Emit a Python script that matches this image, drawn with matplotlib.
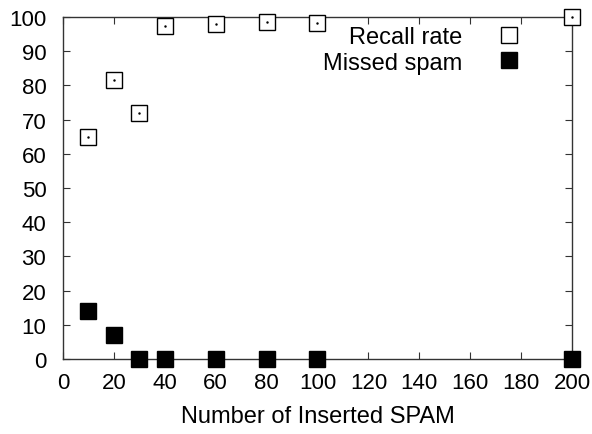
import matplotlib
matplotlib.use("Agg")
import matplotlib.pyplot as plt

plt.rcParams['font.family'] = ['Liberation Sans', 'DejaVu Sans']

# number of inserted spam messages
inserted = [10, 20, 30, 40, 60, 80, 100, 200]
# recall rate (%)
recall = [65, 81.5, 72, 97.5, 98, 98.5, 98.3, 100]
# missed spam count
missed = [14, 7, 0, 0, 0, 0, 0, 0]

xticks = list(range(0, 201, 20))
yticks = list(range(0, 101, 10))

fig = plt.figure(figsize=(5.92, 4.35), dpi=100)
ax = fig.add_axes([0.1064, 0.1724, 0.8598, 0.7862])

ax.plot(inserted, recall, linestyle='none', marker='s', markersize=12,
        markerfacecolor='white', markeredgecolor='black', markeredgewidth=1.0,
        clip_on=False, zorder=3, label='Recall rate')
# gnuplot style centre dot
ax.plot(inserted, recall, linestyle='none', marker='.', markersize=1.5,
        color='black', clip_on=False, zorder=4)
ax.plot(inserted, missed, linestyle='none', marker='s', markersize=12,
        color='black', clip_on=False, zorder=3, label='Missed spam')

ax.set_xlim(0, 200)
ax.set_ylim(0, 100)
ax.set_xticks(xticks)
ax.set_yticks(yticks)
ax.tick_params(direction='in', top=True, right=True, length=5, width=0.8,
               labelsize=16, color='#333333')
ax.tick_params(axis='y', pad=12)
ax.tick_params(axis='x', pad=9)
for s in ax.spines.values():
    s.set_linewidth(1.0)
    s.set_color('#333333')

ax.set_xlabel('Number of Inserted SPAM', fontsize=17, labelpad=9)

leg = ax.legend(loc='upper right', bbox_to_anchor=(533 / 592, 1 - 27 / 435),
                bbox_transform=fig.transFigure, frameon=False,
                markerfirst=False, fontsize=17, handletextpad=1.0,
                handlelength=2.0, labelspacing=0.15, borderpad=0,
                borderaxespad=0, markerscale=0.95)

fig.savefig('out.png', dpi=100)
